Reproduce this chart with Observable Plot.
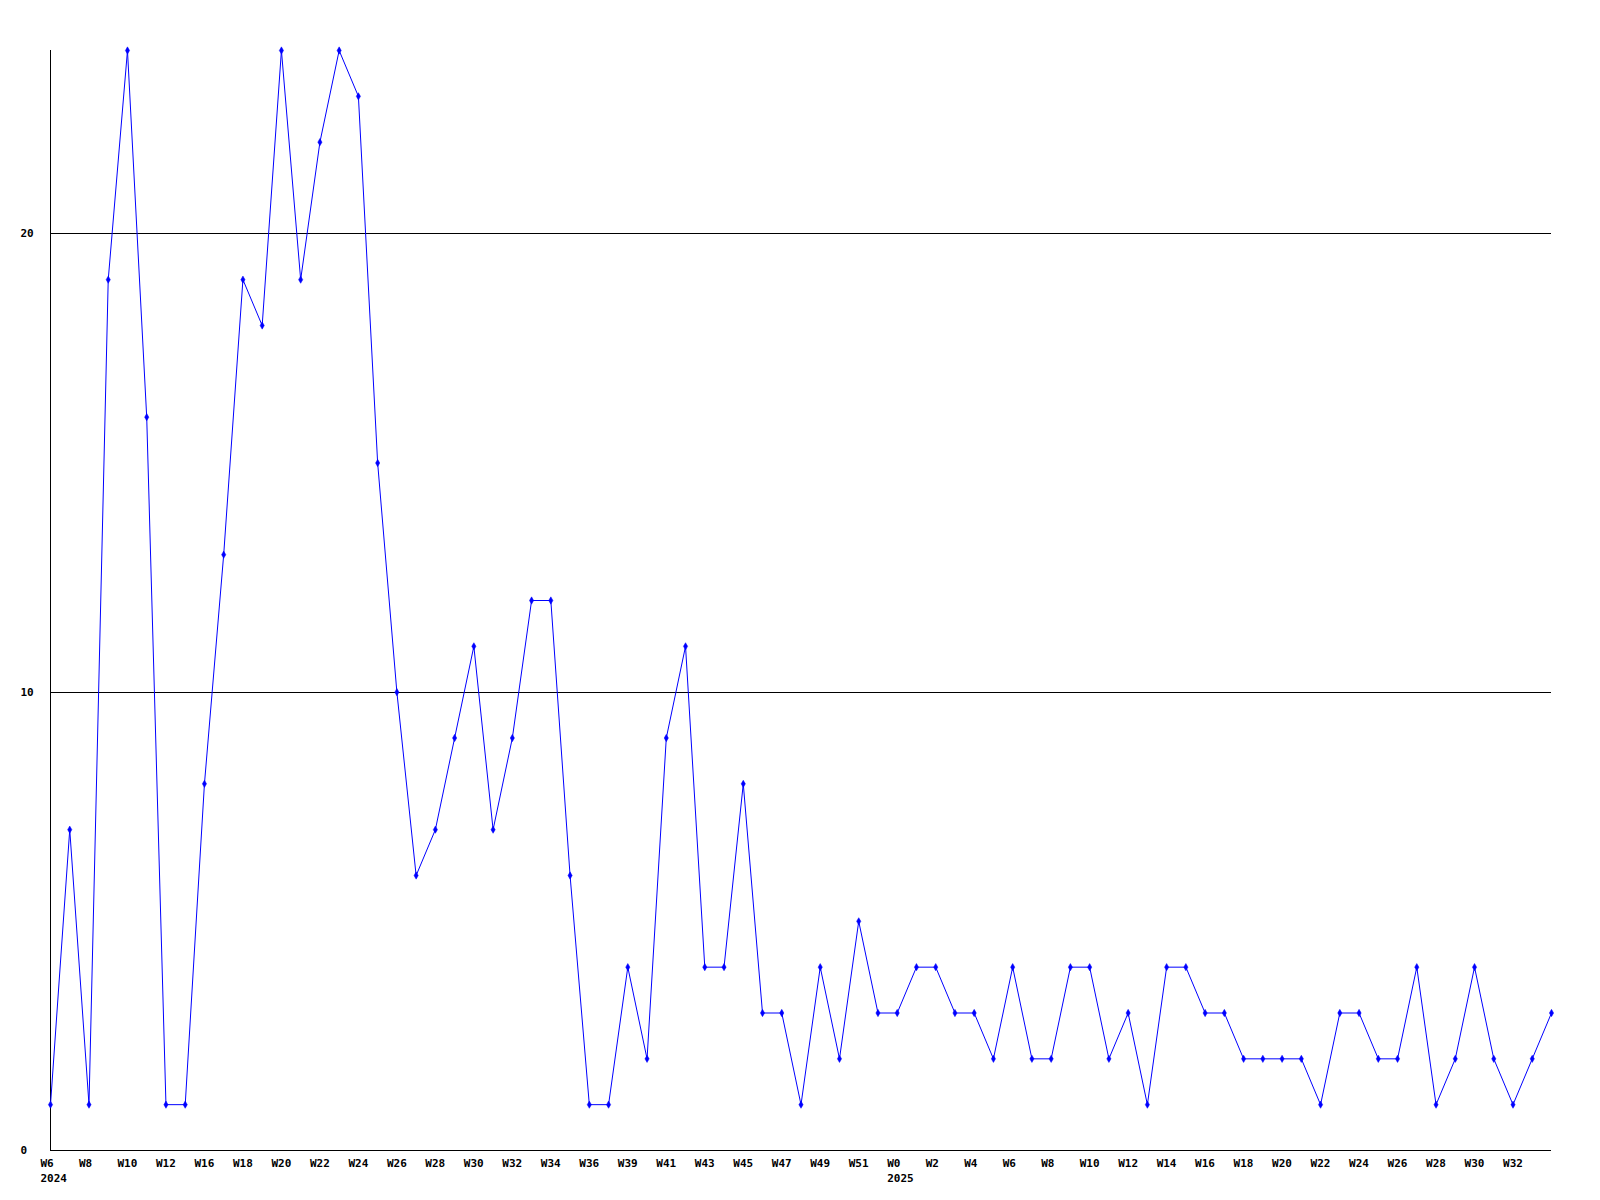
<!DOCTYPE html>
<html>
<head>
<meta charset="utf-8">
<script src="https://cdn.jsdelivr.net/npm/d3@7"></script>
<script src="https://cdn.jsdelivr.net/npm/@observablehq/plot@0.6"></script>
<style>
  html, body { margin: 0; padding: 0; background: #fff; }
  #chart svg { display: block; }
</style>
</head>
<body>
<div id="chart"></div>
<script>
// Weekly values, one per point (left to right)
const values = [
  1, 7, 1, 19, 24, 16, 1, 1, 8, 13,
  19, 18, 24, 19, 22, 24, 23, 15, 10, 6,
  7, 9, 11, 7, 9, 12, 12, 6, 1, 1,
  4, 2, 9, 11, 4, 4, 8, 3, 3, 1,
  4, 2, 5, 3, 3, 4, 4, 3, 3, 2,
  4, 2, 2, 4, 4, 2, 3, 1, 4, 4,
  3, 3, 2, 2, 2, 2, 1, 3, 3, 2,
  2, 4, 1, 2, 4, 2, 1, 2, 3
];

// Tick labels, placed on every second point
const tickLabels = [
  "W6", "W8", "W10", "W12", "W16", "W18", "W20", "W22", "W24", "W26",
  "W28", "W30", "W32", "W34", "W36", "W39", "W41", "W43", "W45", "W47",
  "W49", "W51", "W0", "W2", "W4", "W6", "W8", "W10", "W12", "W14",
  "W16", "W18", "W20", "W22", "W24", "W26", "W28", "W30", "W32"
];

// Year labels and the tick label index they sit under
const yearLabels = ["2024", "2025"];
const yearTickIndex = [0, 22];

const yTicks = [0, 10, 20];

const data = values.map((v, i) => ({i, v}));
const ticks = tickLabels.map((t, k) => ({i: k * 2, t}));
const years = yearLabels.map((y, k) => ({i: yearTickIndex[k] * 2, t: y}));

const font = "'DejaVu Sans Mono', 'Liberation Mono', monospace";

const chart = Plot.plot({
  width: 1600,
  height: 1200,
  marginLeft: 50,
  marginRight: 49,
  marginTop: 50,
  marginBottom: 50,
  style: {background: "#fff"},
  x: {type: "linear", domain: [0, values.length - 1], axis: null},
  y: {type: "linear", domain: [0, 24], axis: null},
  marks: [
    Plot.ruleY(yTicks, {stroke: "#000", strokeWidth: 1, shapeRendering: "crispEdges"}),
    Plot.ruleX([0], {y1: 0, y2: 24, stroke: "#000", strokeWidth: 1, shapeRendering: "crispEdges"}),
    Plot.line(data, {x: "i", y: "v", stroke: "#0000ff", strokeWidth: 1}),
    Plot.dot(data, {x: "i", y: "v", symbol: "diamond", r: 2.2, fill: "#0000ff", stroke: "#0000ff", strokeWidth: 0.5}),
    Plot.text(yTicks, {x: 0, y: d => d, text: d => String(d), textAnchor: "start", dx: -30,
      fontFamily: font, fontWeight: "bold", fontSize: 11, fill: "#000"}),
    Plot.text(ticks, {x: "i", y: 0, text: "t", textAnchor: "start", dx: -10, dy: 13,
      fontFamily: font, fontWeight: "bold", fontSize: 11, fill: "#000"}),
    Plot.text(years, {x: "i", y: 0, text: "t", textAnchor: "start", dx: -10, dy: 28,
      fontFamily: font, fontWeight: "bold", fontSize: 11, fill: "#000"})
  ]
});
document.getElementById("chart").appendChild(chart);
</script>
</body>
</html>
